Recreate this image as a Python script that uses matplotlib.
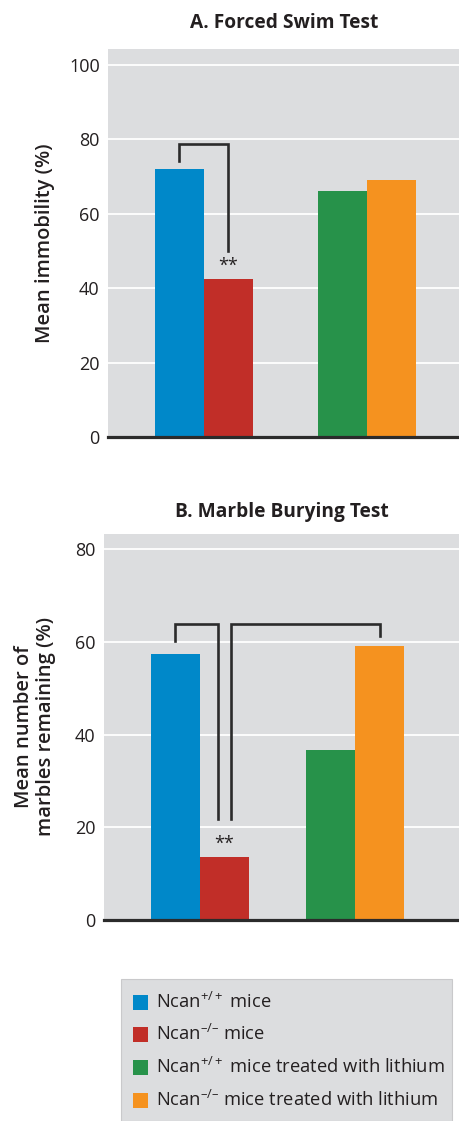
import matplotlib
matplotlib.use("Agg")
import matplotlib.pyplot as plt
from matplotlib.patches import Rectangle

plt.rcParams['font.family'] = ['Open Sans', 'DejaVu Sans']
plt.rcParams['mathtext.fontset'] = 'custom'
plt.rcParams['mathtext.rm'] = 'Open Sans'
plt.rcParams['mathtext.it'] = 'Open Sans'

# ---- data ----
groups = [0, 1]
series_labels = ["Ncan$^{+/+}$ mice", "Ncan$^{\u2013/\u2013}$ mice",
                 "Ncan$^{+/+}$ mice treated with lithium",
                 "Ncan$^{\u2013/\u2013}$ mice treated with lithium"]
colors = ["#0088c9", "#c12e28", "#27924a", "#f5921f"]

fst_values = [72, 42.5, 66, 69]          # A. Forced Swim Test
mbt_values = [57.5, 13.5, 36.7, 59.2]    # B. Marble Burying Test

fst_ticks = [0, 20, 40, 60, 80, 100]
mbt_ticks = [0, 20, 40, 60, 80]

bg = "#dcdddf"
ink = "#2b2b2b"
text_c = "#231f20"

fig = plt.figure(figsize=(4.6, 11.21), dpi=100)


def panel(rect, values, ticks, ylim, xlim, width, title, ylabel, title_pad, lpad):
    ax = fig.add_axes(rect)
    ax.set_facecolor(bg)
    # bar positions: group centre +/- half width
    xs = [groups[0] - width / 2, groups[0] + width / 2,
          groups[1] - width / 2, groups[1] + width / 2]
    ax.bar(xs, values, width=width, color=colors, zorder=3, linewidth=0)
    ax.set_xlim(*xlim)
    ax.set_ylim(*ylim)
    ax.set_yticks(ticks)
    ax.set_yticklabels([str(t) for t in ticks], fontsize=13, color=text_c)
    ax.set_xticks([])
    ax.tick_params(axis='y', length=0, pad=6)
    ax.yaxis.grid(True, color='white', linewidth=1.3, zorder=1)
    ax.set_axisbelow(True)
    for s in ['left', 'right', 'top']:
        ax.spines[s].set_visible(False)
    ax.spines['bottom'].set_color(ink)
    ax.spines['bottom'].set_linewidth(2.3)
    ax.spines['bottom'].set_zorder(5)
    ax.set_title(title, fontsize=13.8, fontweight='bold', color=text_c, pad=title_pad)
    ax.set_ylabel(ylabel, fontsize=14.5, fontweight='semibold', color=text_c,
                  labelpad=lpad, linespacing=1.12)
    return ax, xs


# ---- Panel A ----
axA, xsA = panel([108 / 460, 1 - 437 / 1121, 1 - 108 / 460, (437 - 49) / 1121],
                 fst_values, fst_ticks, (0, 104.3), (-0.587, 1.572), 0.30,
                 "A. Forced Swim Test", "Mean immobility (%)", 15, 10)
axA.plot([xsA[0], xsA[0], xsA[1], xsA[1]], [74.1, 78.7, 78.7, 49.9],
         color=ink, lw=1.9, zorder=4, solid_joinstyle='miter')
axA.text(xsA[1], fst_values[1] + 1.0, "**", ha='center', va='bottom',
         fontsize=13, color=text_c, zorder=4)

# ---- Panel B ----
axB, xsB = panel([104 / 460, 1 - 920 / 1121, 1 - 104 / 460, (920 - 533.7) / 1121],
                 mbt_values, mbt_ticks, (0, 83.4), (-0.619, 1.677), 0.316,
                 "B. Marble Burying Test", "Mean number of\nmarbles remaining (%)", 12, 14)
off = 0.04
axB.plot([xsB[0], xsB[0], xsB[1] - off, xsB[1] - off], [60.3, 63.9, 63.9, 21.7],
         color=ink, lw=1.9, zorder=4, solid_joinstyle='miter')
axB.plot([xsB[1] + off, xsB[1] + off, xsB[3], xsB[3]], [21.7, 63.9, 63.9, 61.3],
         color=ink, lw=1.9, zorder=4, solid_joinstyle='miter')
axB.text(xsB[1], mbt_values[1] + 1.0, "**", ha='center', va='bottom',
         fontsize=13, color=text_c, zorder=4)

# ---- Legend ----
lax = fig.add_axes([121 / 460, 0, (452.3 - 121) / 460, (1121 - 979.3) / 1121])
lax.set_xlim(0, 331.3)
lax.set_ylim(141.7, 0)
lax.set_axis_off()
lax.add_patch(Rectangle((0, 0), 331.3, 141.7, facecolor=bg, edgecolor='#c9c9cb',
                        lw=0.8, transform=lax.transData, clip_on=False))
row_y = [23, 55, 88, 120.7]
for lab, col, y in zip(series_labels, colors, row_y):
    lax.add_patch(Rectangle((11.7, y - 7.5), 15, 15, facecolor=col, edgecolor='none'))
    lax.text(34.7, y, lab, fontsize=13.2, color=text_c, va='center', ha='left')

fig.savefig("out.png", dpi=100)
